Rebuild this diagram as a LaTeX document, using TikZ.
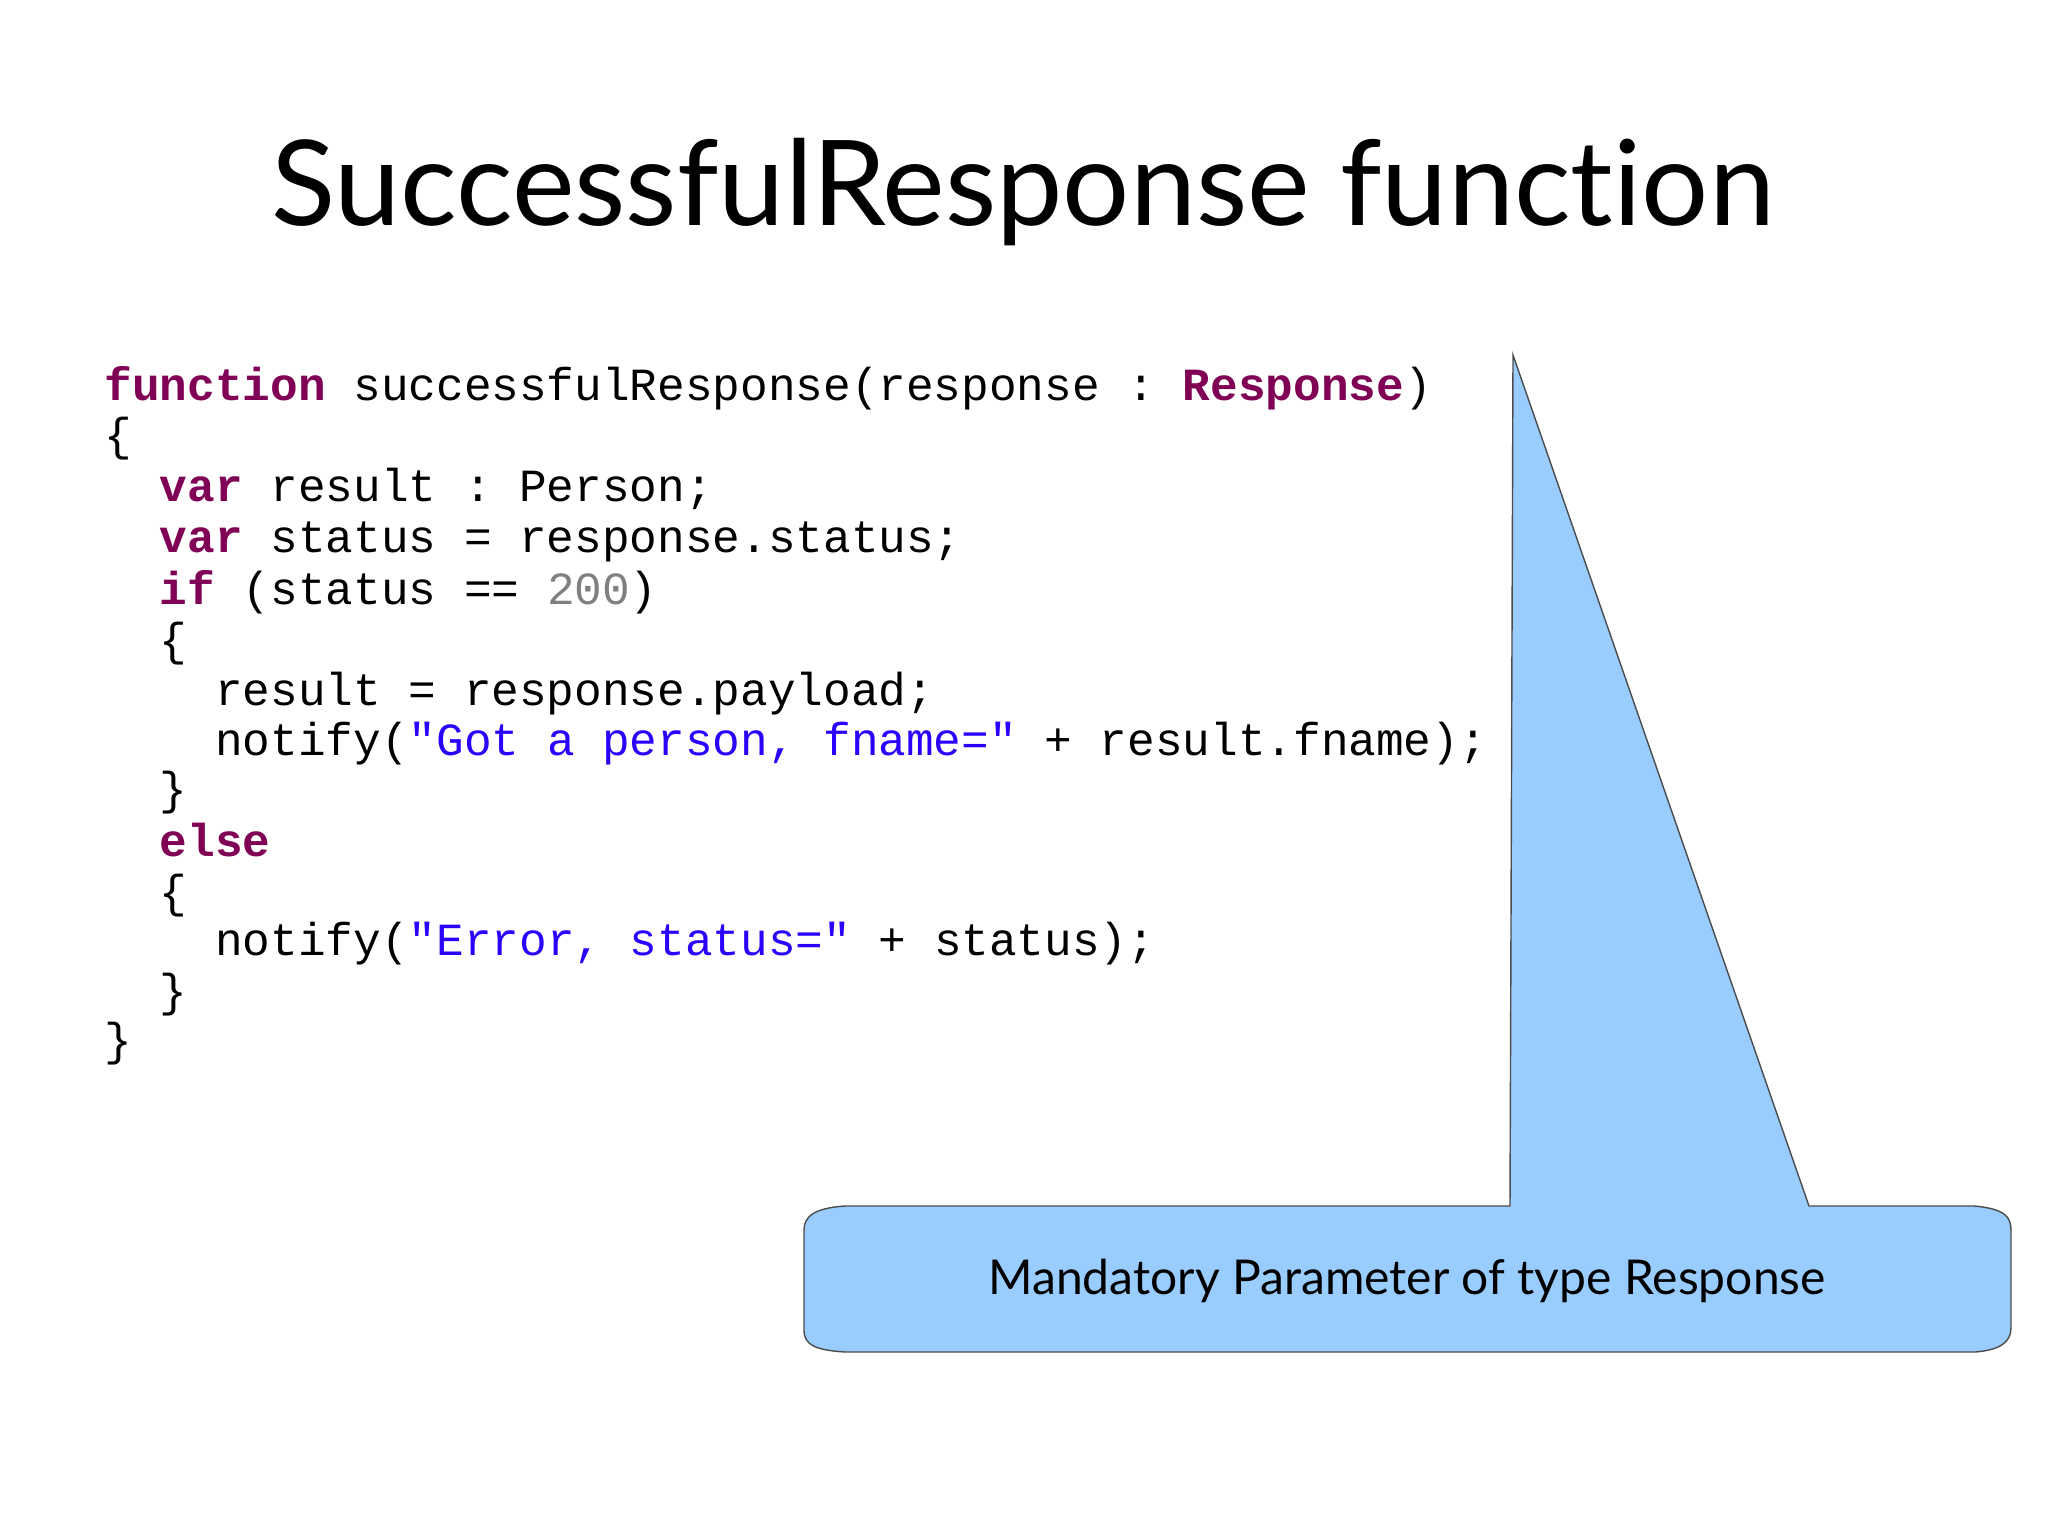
\documentclass[tikz,border=0pt]{standalone}
\usepackage{fontspec}
\setmainfont[Ligatures={NoCommon}]{Lato}
\setmonofont{Liberation Mono}
\definecolor{kw}{HTML}{7F0055}
\definecolor{str}{HTML}{2A00FF}
\definecolor{num}{HTML}{808080}
\definecolor{call}{HTML}{99CCFF}
\newcommand{\kw}[1]{\textcolor{kw}{\bfseries #1}}
\newcommand{\st}[1]{\textcolor{str}{#1}}
\begin{document}
\begin{tikzpicture}[x=0.01cm,y=-0.01cm,
  code/.style={anchor=base west,inner sep=0pt,font=\fontsize{13.1pt}{15pt}\ttfamily}]
\useasboundingbox (0,0) rectangle (2048,1535);
\node[font=\fontsize{33.7pt}{40pt}\selectfont] (title) at (1023,192) {SuccessfulResponse function};
\def\lx{104}
\node[code] (l1) at (\lx,400) {\kw{function} successfulResponse(response : \kw{Response})};
\node[code] (l2) at (\lx,450) {\{};
\node[code] (l3) at (\lx,501) {\ \ \kw{var} result : Person;};
\node[code] (l4) at (\lx,552) {\ \ \kw{var} status = response.status;};
\node[code] (l5) at (\lx,604) {\ \ \kw{if} (status == \textcolor{num}{200})};
\node[code] (l6) at (\lx,655) {\ \ \{};
\node[code] (l7) at (\lx,705) {\ \ \ \ result = response.payload;};
\node[code] (l8) at (\lx,755) {\ \ \ \ notify(\st{"Got a person, fname="} + result.fname);};
\node[code] (l9) at (\lx,804) {\ \ \}};
\node[code] (l10) at (\lx,856) {\ \ \kw{else}};
\node[code] (l11) at (\lx,907) {\ \ \{};
\node[code] (l12) at (\lx,955) {\ \ \ \ notify(\st{"Error, status="} + status);};
\node[code] (l13) at (\lx,1006) {\ \ \}};
\node[code] (l14) at (\lx,1055) {\}};
\draw[fill=call,draw=black!70,line width=0.4pt]
  (1510,1206) -- (1513,355) -- (1809,1206) -- (1975,1206)
  .. controls (2005,1209) and (2011,1217) .. (2011,1230) -- (2011,1328)
  .. controls (2011,1342) and (2000,1350) .. (1975,1352) -- (845,1352)
  .. controls (815,1350) and (804,1345) .. (804,1330) -- (804,1230)
  .. controls (804,1216) and (815,1208) .. (845,1206) -- cycle;
\node[font=\fontsize{13.65pt}{17pt}\selectfont] (cap) at (1407,1281) {Mandatory Parameter of type Response};
\end{tikzpicture}
\end{document}
